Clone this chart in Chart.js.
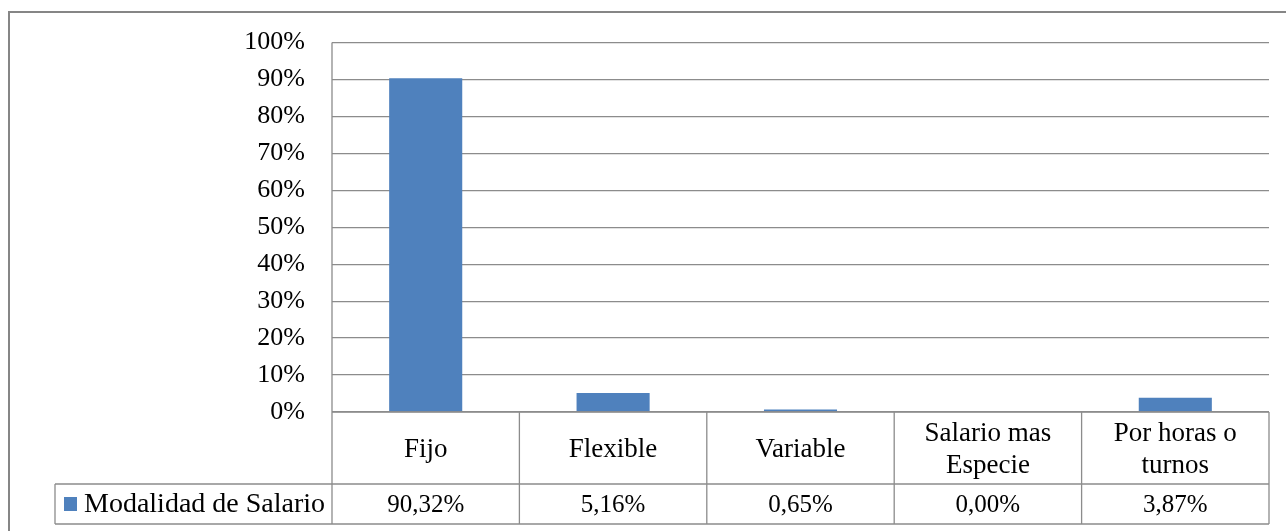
<!DOCTYPE html>
<html>
<head>
<meta charset="utf-8">
<script src="https://cdn.jsdelivr.net/npm/chart.js@4"></script>
<style>
  html, body { margin: 0; padding: 0; background: #fff; }
  canvas { display: block; }
</style>
</head>
<body>
<canvas id="grafico" width="1286" height="531"></canvas>
<script>
const categorias = [['Fijo'], ['Flexible'], ['Variable'], ['Salario mas', 'Especie'], ['Por horas o', 'turnos']];
const valores = [90.32, 5.16, 0.65, 0.00, 3.87];
const serie = 'Modalidad de Salario';
const ticksY = [0, 10, 20, 30, 40, 50, 60, 70, 80, 90, 100];

const fuente = '"Liberation Serif", "Times New Roman", serif';
const gris = '#8c8c8c';
const azul = '#4f81bd';

// tabla de datos debajo del grafico (estilo Excel)
const tablaDatos = {
  id: 'tablaDatos',
  afterDraw(chart) {
    const ctx = chart.ctx;
    const area = chart.chartArea;
    const x = chart.scales.x;
    const ancho = (area.right - area.left) / categorias.length;
    const filaCat = area.bottom + 72;
    const filaVal = filaCat + 40;
    const izqLeyenda = 55;

    ctx.save();
    // borde exterior
    ctx.strokeStyle = '#868686';
    ctx.lineWidth = 2;
    ctx.strokeRect(9, 12, 1300, 540);

    ctx.strokeStyle = gris;
    ctx.lineWidth = 1.3;
    ctx.beginPath();
    ctx.moveTo(area.left, area.bottom); ctx.lineTo(area.right, area.bottom);
    ctx.moveTo(izqLeyenda, filaCat); ctx.lineTo(area.right, filaCat);
    ctx.moveTo(izqLeyenda, filaVal); ctx.lineTo(area.right, filaVal);
    ctx.moveTo(izqLeyenda, filaCat); ctx.lineTo(izqLeyenda, filaVal);
    for (let i = 0; i <= categorias.length; i++) {
      const xx = area.left + i * ancho;
      ctx.moveTo(xx, i === 0 ? area.top : area.bottom);
      ctx.lineTo(xx, filaVal);
    }
    ctx.stroke();

    ctx.fillStyle = '#000';
    ctx.textAlign = 'center';
    ctx.textBaseline = 'middle';
    categorias.forEach((lineas, i) => {
      const cx = x.getPixelForValue(i);
      const cy = (area.bottom + filaCat) / 2 + 2;
      ctx.font = '27px ' + fuente;
      lineas.forEach((t, j) => {
        ctx.fillText(t, cx, cy + (j - (lineas.length - 1) / 2) * 32);
      });
      ctx.font = '25px ' + fuente;
      const v = valores[i].toFixed(2).replace('.', ',') + '%';
      ctx.fillText(v, cx, (filaCat + filaVal) / 2 + 1);
    });

    // leyenda
    ctx.fillStyle = azul;
    ctx.fillRect(64, 497, 13, 14);
    ctx.fillStyle = '#000';
    ctx.textAlign = 'left';
    ctx.font = '28px ' + fuente;
    ctx.fillText(serie, 84, (filaCat + filaVal) / 2 + 1);
    ctx.restore();
  }
};

new Chart(document.getElementById('grafico'), {
  type: 'bar',
  data: {
    labels: categorias.map(c => c.join(' ')),
    datasets: [{
      label: serie,
      data: valores,
      backgroundColor: azul,
      barPercentage: 0.39,
      categoryPercentage: 1
    }]
  },
  options: {
    responsive: false,
    animation: false,
    layout: { padding: { top: 40, right: 17, bottom: 119, left: 0 } },
    plugins: { legend: { display: false }, tooltip: { enabled: false } },
    scales: {
      x: { display: false },
      y: {
        min: 0,
        max: 100,
        afterBuildTicks(scale) { scale.ticks = ticksY.map(v => ({ value: v })); },
        afterFit(scale) { scale.width = 332; },
        border: { display: false },
        grid: { color: gris, lineWidth: 1.3, drawTicks: false },
        ticks: {
          padding: 27,
          color: '#000',
          font: { family: fuente, size: 26 },
          callback: v => v + '%'
        }
      }
    }
  },
  plugins: [tablaDatos]
});
</script>
</body>
</html>
